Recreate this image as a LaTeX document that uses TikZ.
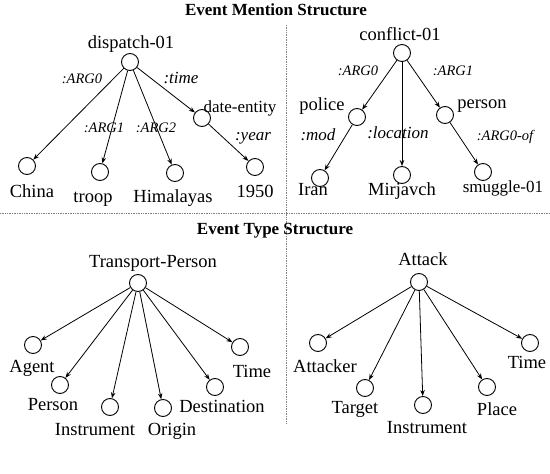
\documentclass[tikz,border=0pt]{standalone}
\usepackage{fontspec}
\setmainfont{Liberation Serif}
\usetikzlibrary{arrows.meta}
\begin{document}
\begin{tikzpicture}[x=1pt,y=-1pt,
  cnode/.style={circle,draw,line width=0.9pt,minimum size=17pt,inner sep=0pt},
  lbl/.style={inner sep=0pt,anchor=base,font=\fontsize{18.5}{20}\selectfont},
  slbl/.style={inner sep=0pt,anchor=base,font=\fontsize{17}{20}\selectfont},
  elbl/.style={inner sep=0pt,anchor=base,font=\fontsize{17}{18}\selectfont\itshape},
  albl/.style={inner sep=0pt,anchor=base,font=\fontsize{14.5}{18}\selectfont\itshape},
  ttl/.style={inner sep=0pt,anchor=base,font=\fontsize{17}{20}\selectfont\bfseries},
  arr/.style={-{Stealth[length=6pt,width=4.5pt]},line width=0.8pt},
  sep/.style={gray,densely dotted,line width=0.7pt}]
\useasboundingbox (0,0) rectangle (550,474);
% titles and separators
\node[ttl] (t1) at (276,15) {Event Mention Structure};
\node[ttl] (t2) at (275,234) {Event Type Structure};
\coordinate (hl) at (0,213);
\coordinate (hr) at (550,213);
\coordinate (vt) at (286,25);
\coordinate (vb) at (286,423);
\draw[sep] (hl) -- (hr);
\draw[sep] (vt) -- (vb);
% ---- top left
\node[cnode] (d0) at (130,62) {};
\node[lbl] at (131,48) {dispatch-01};
\node[cnode] (d1) at (27,166) {};
\node[lbl] at (32,197) {China};
\node[cnode] (d2) at (100,172) {};
\node[lbl] at (93,202) {troop};
\node[cnode] (d3) at (175,173) {};
\node[lbl] at (173,202) {Himalayas};
\node[cnode] (d4) at (202,118) {};
\node[slbl] at (240,112) {date-entity};
\node[cnode] (d5) at (255,167) {};
\node[lbl] at (255,197) {1950};
\draw[arr] (d0) -- (d1);
\draw[arr] (d0) -- (d2);
\draw[arr] (d0) -- (d3);
\draw[arr] (d0) -- (d4);
\draw[arr] (d4) -- (d5);
\node[albl] at (82,83) {:ARG0};
\node[elbl] at (181,83) {:time};
\node[albl] at (104,132) {:ARG1};
\node[albl] at (156,132) {:ARG2};
\node[elbl] at (253,140) {:year};
% ---- top right
\node[cnode] (r0) at (402,53) {};
\node[lbl] at (400,40) {conflict-01};
\node[cnode] (r1) at (357,117) {};
\node[lbl] at (322,110) {police};
\node[cnode] (r2) at (445,115) {};
\node[lbl] at (482,108) {person};
\node[cnode] (r3) at (320,178) {};
\node[lbl] at (313,195) {Iran};
\node[cnode] (r4) at (402,175) {};
\node[lbl] at (402,195) {Mirjavch};
\node[cnode] (r5) at (483,172) {};
\node[slbl] at (503,192) {smuggle-01};
\draw[arr] (r0) -- (r1);
\draw[arr] (r0) -- (r2);
\draw[arr] (r0) -- (r4);
\draw[arr] (r1) -- (r3);
\draw[arr] (r2) -- (r5);
\node[albl] at (358,75) {:ARG0};
\node[albl] at (453,75) {:ARG1};
\node[elbl] at (318,140) {:mod};
\node[elbl] at (398,138) {:location};
\node[albl] at (505,140) {:ARG0-of};
% ---- bottom left
\node[cnode] (p0) at (138,283) {};
\node[lbl] at (153,267) {Transport-Person};
\node[cnode] (p1) at (33,345) {};
\node[lbl] at (32,372) {Agent};
\node[cnode] (p2) at (60,385) {};
\node[lbl] at (53,410) {Person};
\node[cnode] (p3) at (110,407) {};
\node[lbl] at (95,435) {Instrument};
\node[cnode] (p4) at (163,408) {};
\node[lbl] at (172,435) {Origin};
\node[cnode] (p5) at (215,387) {};
\node[lbl] at (222,412) {Destination};
\node[cnode] (p6) at (240,347) {};
\node[lbl] at (252,377) {Time};
\foreach \n in {p1,p2,p3,p4,p5,p6} \draw[arr] (p0) -- (\n);
% ---- bottom right
\node[cnode] (a0) at (419,282) {};
\node[lbl] at (423,265) {Attack};
\node[cnode] (a1) at (318,343) {};
\node[lbl] at (325,372) {Attacker};
\node[cnode] (a2) at (365,388) {};
\node[lbl] at (355,413) {Target};
\node[cnode] (a3) at (423,405) {};
\node[lbl] at (427,433) {Instrument};
\node[cnode] (a4) at (487,387) {};
\node[lbl] at (497,415) {Place};
\node[cnode] (a5) at (530,343) {};
\node[lbl] at (527,368) {Time};
\foreach \n in {a1,a2,a3,a4,a5} \draw[arr] (a0) -- (\n);
\end{tikzpicture}
\end{document}
